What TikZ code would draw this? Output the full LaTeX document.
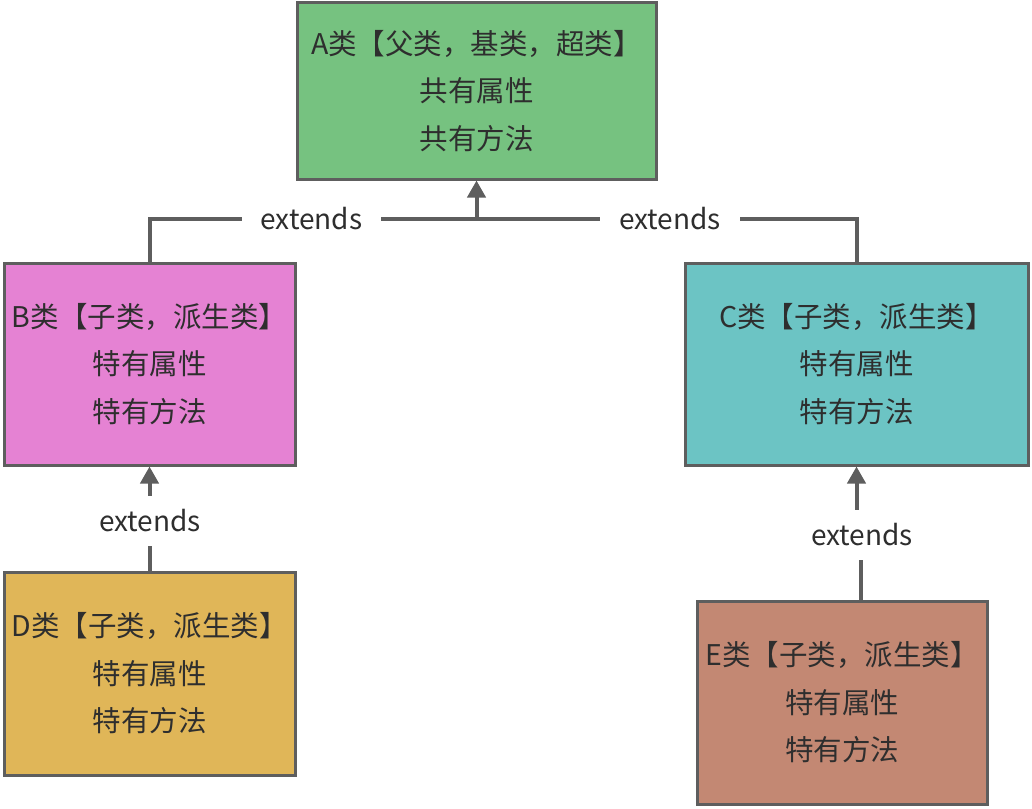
\documentclass[tikz,border=0pt]{standalone}
\usepackage{fontspec}
\setmainfont{Noto Sans CJK SC}
\usetikzlibrary{arrows.meta}
\definecolor{cA}{HTML}{76C280}
\definecolor{cB}{HTML}{E582D3}
\definecolor{cC}{HTML}{6CC4C4}
\definecolor{cD}{HTML}{E0B658}
\definecolor{cE}{HTML}{C38873}
\definecolor{edge}{HTML}{5E5E5E}
\definecolor{txt}{HTML}{2E2E2E}
\begin{document}
\begin{tikzpicture}[x=1pt,y=-1pt,
  cls/.style={draw=edge, line width=3pt, align=center, text=txt,
    font=\fontsize{28.5}{47.5}\selectfont, inner sep=0pt},
  conn/.style={draw=edge, line width=4pt},
  arr/.style={conn, -{Triangle[length=17pt,width=18pt]}},
  lab/.style={fill=white, text=txt, font=\fontsize{28}{32}\selectfont,
    inner xsep=19pt, inner ysep=14pt}]
\useasboundingbox[fill=white] (0,0) rectangle (1032,808);
\node[cls, fill=cA, minimum width=359pt, minimum height=176pt] (A) at (476.5,91)
  {A类【父类，基类，超类】\\共有属性\\共有方法};
\node[cls, fill=cB, minimum width=291pt, minimum height=202pt] (B) at (149.5,364)
  {B类【子类，派生类】\\特有属性\\特有方法};
\node[cls, fill=cC, minimum width=343pt, minimum height=202pt] (C) at (856.5,364)
  {C类【子类，派生类】\\特有属性\\特有方法};
\node[cls, fill=cD, minimum width=291pt, minimum height=203pt] (D) at (149.5,673.5)
  {D类【子类，派生类】\\特有属性\\特有方法};
\node[cls, fill=cE, minimum width=290pt, minimum height=203pt] (E) at (842,702.5)
  {E类【子类，派生类】\\特有属性\\特有方法};
\coordinate (j) at (476.5,219);
\coordinate (ej) at (861,535);
\draw[conn] (B.north) |- (j);
\draw[conn] (j) -| (C.north);
\draw[arr] (j) -- (A.south);
\draw[arr] (D.north) -- (B.south);
\draw[arr] (E.north -| ej) -- (ej) -| (C.south);
\node[lab] (l1) at (311.5,219) {extends};
\node[lab] (l2) at (670,219) {extends};
\node[lab] (l3) at (150,521) {extends};
\node[lab] (l4) at (862,535) {extends};
\end{tikzpicture}
\end{document}
